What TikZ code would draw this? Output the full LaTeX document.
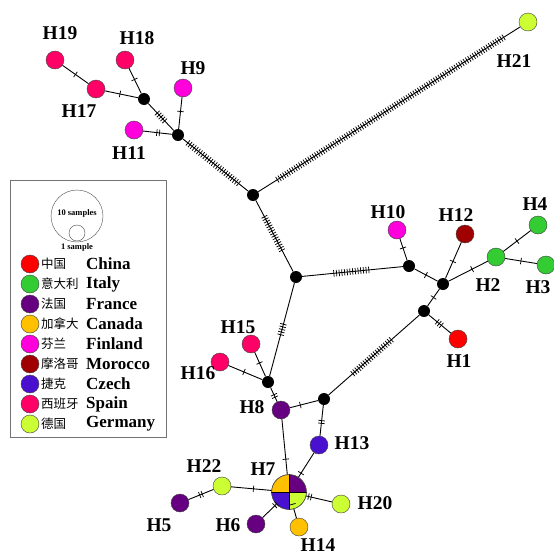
\documentclass[tikz,border=0pt]{standalone}
\usepackage{fontspec}
\setmainfont{Liberation Serif}
\newfontfamily\cjk{Noto Sans CJK SC}
\usetikzlibrary{calc}

\definecolor{cChina}{HTML}{FF0000}
\definecolor{cItaly}{HTML}{33CC33}
\definecolor{cFrance}{HTML}{660080}
\definecolor{cCanada}{HTML}{FFC000}
\definecolor{cFinland}{HTML}{FF00DD}
\definecolor{cMorocco}{HTML}{A00000}
\definecolor{cCzech}{HTML}{4A10D0}
\definecolor{cSpain}{HTML}{FF0066}
\definecolor{cGermany}{HTML}{CCFF33}

\tikzset{
  hap/.style={circle, draw=black!75, line width=0.4pt, minimum size=18pt, inner sep=0pt},
  med/.style={circle, fill=black, minimum size=12pt, inner sep=0pt},
  lab/.style={font=\fontsize{19.5}{19.5}\selectfont\bfseries, inner sep=0pt},
  link/.style={line width=0.9pt},
  tickline/.style={line width=6.5pt, dash pattern=on 0.75pt off 1.95pt, dash phase=1.77pt},
  cnname/.style={font=\cjk\fontsize{12.5}{12.5}\selectfont, anchor=west, inner sep=0pt},
  enname/.style={font=\fontsize{17}{17}\selectfont\bfseries, anchor=west, inner sep=0pt},
  sizetext/.style={font=\fontsize{8.5}{8.5}\selectfont\bfseries, inner sep=0pt},
}

% mutation ticks: #1,#2 end nodes, #3 number of ticks, #4 position of their centre
\newcommand\mut[4]{%
  \coordinate (tk) at ($(#1)!#4!(#2)$);
  \draw[tickline] ($(tk)!{#3*1.35pt}!(#1)$) -- ($(tk)!{#3*1.35pt}!(#2)$);
}

\begin{document}
\begin{tikzpicture}[x=1pt, y=-1pt]
\fill[white] (0,0) rectangle (554,557);
\useasboundingbox (0,0) rectangle (554,557);

% median vectors
\node[med] (m1) at (144,99) {};
\node[med] (m2) at (178,135) {};
\node[med] (m3) at (253,195) {};
\node[med] (m4) at (296,277) {};
\node[med] (m5) at (409,266) {};
\node[med] (m6) at (443,284) {};
\node[med] (m7) at (424,311) {};
\node[med] (m8) at (268,382) {};
\node[med] (m9) at (324,399) {};

% haplotypes
\node[hap, fill=cSpain]   (H19) at (55,60) {};
\node[hap, fill=cSpain]   (H18) at (125,60) {};
\node[hap, fill=cSpain]   (H17) at (96,89) {};
\node[hap, fill=cFinland] (H9)  at (183,88) {};
\node[hap, fill=cFinland] (H11) at (134,130) {};
\node[hap, fill=cGermany] (H21) at (528,22) {};
\node[hap, fill=cFinland] (H10) at (397,230) {};
\node[hap, fill=cMorocco] (H12) at (465,234) {};
\node[hap, fill=cItaly]   (H2)  at (496,257) {};
\node[hap, fill=cItaly]   (H4)  at (538,225) {};
\node[hap, fill=cItaly]   (H3)  at (546,265) {};
\node[hap, fill=cChina]   (H1)  at (458,339) {};
\node[hap, fill=cSpain]   (H15) at (251,344) {};
\node[hap, fill=cSpain]   (H16) at (220,362) {};
\node[hap, fill=cFrance]  (H8)  at (281,410) {};
\node[hap, fill=cCzech]   (H13) at (319,445) {};
\node[hap, minimum size=35pt] (H7) at (289,492) {};
\node[hap, fill=cGermany] (H22) at (222,486) {};
\node[hap, fill=cFrance]  (H5)  at (180,503) {};
\node[hap, fill=cFrance]  (H6)  at (256,524) {};
\node[hap, fill=cCanada]  (H14) at (299,527) {};
\node[hap, fill=cGermany] (H20) at (341,504) {};

% H7 is shared by four countries
\begin{scope}
  \clip (H7.center) circle[radius=17.3pt];
  \fill[cCanada]  (H7.center) rectangle (H7.west |- H7.north);
  \fill[cFrance]  (H7.center) rectangle (H7.east |- H7.north);
  \fill[cCzech]   (H7.center) rectangle (H7.west |- H7.south);
  \fill[cGermany] (H7.center) rectangle (H7.east |- H7.south);
\end{scope}
\draw[line width=0.7pt] (H7.north) -- (H7.south) (H7.west) -- (H7.east);
\draw[black!75, line width=0.5pt] (H7.center) circle[radius=17.3pt];

% links
\foreach \a/\b in {H19/H17, H17/m1, H18/m1, m1/m2, H9/m2, H11/m2, m2/m3, m3/H21,
  m3/m4, m4/m5, H10/m5, m5/m6, H12/m6, m6/H2, H2/H4, H2/H3, m6/m7, m7/H1,
  m7/m9, m4/m8, H15/m8, H16/m8, m8/H8, H8/m9, m9/H13, H8/H7, H13/H7,
  H22/H7, H5/H22, H6/H7, H14/H7, H20/H7}
  \draw[link] (\a) -- (\b);

% mutation steps
\mut{H19}{H17}{1}{0.5}
\mut{H17}{m1}{1}{0.5}
\mut{H18}{m1}{1}{0.5}
\mut{m1}{m2}{5}{0.5}
\mut{H9}{m2}{1}{0.5}
\mut{H11}{m2}{2}{0.55}
\mut{m2}{m3}{25}{0.47}
\mut{m3}{H21}{100}{0.5}
\mut{m3}{m4}{15}{0.47}
\mut{m4}{m5}{14}{0.49}
\mut{H10}{m5}{1}{0.5}
\mut{m5}{m6}{1}{0.5}
\mut{H12}{m6}{1}{0.55}
\mut{m6}{H2}{1}{0.55}
\mut{H2}{H4}{1}{0.5}
\mut{H2}{H3}{1}{0.5}
\mut{m6}{m7}{1}{0.5}
\mut{m7}{H1}{3}{0.45}
\mut{m7}{m9}{20}{0.52}
\mut{m4}{m8}{5}{0.5}
\mut{H15}{m8}{1}{0.5}
\mut{H16}{m8}{1}{0.5}
\mut{m8}{H8}{2}{0.5}
\mut{H8}{m9}{1}{0.45}
\mut{m9}{H13}{2}{0.5}
\mut{H8}{H7}{1}{0.6}
\mut{H13}{H7}{1}{0.6}
\mut{H22}{H7}{1}{0.47}
\mut{H5}{H22}{2}{0.5}
\mut{H6}{H7}{2}{0.6}
\mut{H14}{H7}{1}{0.65}
\mut{H20}{H7}{2}{0.6}

% labels
\node[lab] (tH19) at (60,33) {H19};
\node[lab] (tH18) at (137,38) {H18};
\node[lab] (tH9)  at (193,68) {H9};
\node[lab] (tH17) at (79,111) {H17};
\node[lab] (tH11) at (129,153) {H11};
\node[lab] (tH21) at (514,61) {H21};
\node[lab] (tH10) at (388,212) {H10};
\node[lab] (tH12) at (456,215) {H12};
\node[lab] (tH4)  at (535,204) {H4};
\node[lab] (tH2)  at (488,285) {H2};
\node[lab] (tH3)  at (538,287) {H3};
\node[lab] (tH1)  at (459,361) {H1};
\node[lab] (tH15) at (238,327) {H15};
\node[lab] (tH16) at (198,373) {H16};
\node[lab] (tH8)  at (252,407) {H8};
\node[lab] (tH13) at (352,443) {H13};
\node[lab] (tH22) at (204,466) {H22};
\node[lab] (tH7)  at (263,469) {H7};
\node[lab] (tH5)  at (159,525) {H5};
\node[lab] (tH6)  at (228,525) {H6};
\node[lab] (tH14) at (318,545) {H14};
\node[lab] (tH20) at (375,503) {H20};

% legend
\draw[black!55, line width=0.6pt] (10,180) rectangle (166,437);
\node[circle, draw=black!70, line width=0.4pt, minimum size=52pt, inner sep=0pt] (big) at (77,216) {};
\node[circle, draw=black!70, line width=0.4pt, minimum size=16pt, inner sep=0pt] (small) at (77,233) {};
\node[sizetext] (t10) at (77,213) {10 samples};
\node[sizetext] (t1) at (77,247) {1 sample};

\foreach \c/\cn/\en [count=\i from 0] in {cChina/中国/China, cItaly/意大利/Italy,
  cFrance/法国/France, cCanada/加拿大/Canada, cFinland/芬兰/Finland,
  cMorocco/摩洛哥/Morocco, cCzech/捷克/Czech, cSpain/西班牙/Spain,
  cGermany/德国/Germany} {
  \node[hap, fill=\c] (lg\i) at (30,{264+20*\i}) {};
  \node[cnname] (lc\i) at (41,{264+20*\i}) {\cn};
  \node[enname] (le\i) at (86,{264+20*\i}) {\en};
}
\end{tikzpicture}
\end{document}
